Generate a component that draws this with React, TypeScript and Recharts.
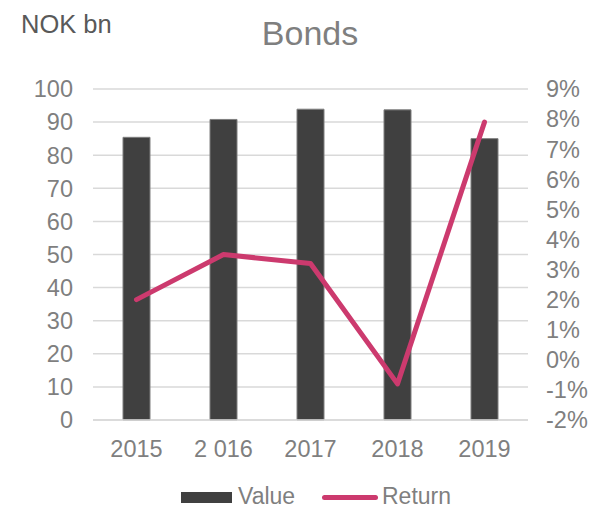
import { ComposedChart, Bar, Line, XAxis, YAxis, CartesianGrid } from 'recharts';

const years = ['2015', '2 016', '2017', '2018', '2019'];
const values = [85.4, 90.8, 93.9, 93.7, 85.0];
const returns = [2.0, 3.5, 3.2, -0.8, 7.9];
const leftTicks = [0, 10, 20, 30, 40, 50, 60, 70, 80, 90, 100];
const rightTicks = [-2, -1, 0, 1, 2, 3, 4, 5, 6, 7, 8, 9];

const data = years.map((year, i) => ({ year, value: values[i], ret: returns[i] }));

const FONT = '"Liberation Sans", Arial, sans-serif';
const TICK = { fill: '#7f7f7f', fontSize: 23.5, fontFamily: FONT };
const BAR_COLOR = '#404040';
const LINE_COLOR = '#cc3a6e';

export default function App() {
  return (
    <div style={{ position: 'relative', width: 593, height: 511, background: '#fff', fontFamily: FONT }}>
      <style>{'body{margin:0}'}</style>
      <div style={{ position: 'absolute', left: 21, top: 10, fontSize: 25.5, color: '#595959', lineHeight: 'normal' }}>NOK bn</div>
      <div style={{ position: 'absolute', left: 0, width: 620, top: 14, textAlign: 'center', fontSize: 34, color: '#7f7f7f', lineHeight: 'normal' }}>
        Bonds
      </div>
      <ComposedChart width={593} height={511} data={data} margin={{ top: 89, right: 0, bottom: 50, left: 0 }}>
        <CartesianGrid yAxisId="left" vertical={false} stroke="#d9d9d9" strokeWidth={1.5} />
        <XAxis
          dataKey="year"
          height={41}
          tick={TICK}
          tickLine={false}
          axisLine={{ stroke: '#d9d9d9', strokeWidth: 1.5 }}
          tickSize={0}
          tickMargin={20}
          interval={0}
        />
        <YAxis
          yAxisId="left"
          orientation="left"
          width={93}
          domain={[0, 100]}
          ticks={leftTicks}
          tick={TICK}
          tickLine={false}
          axisLine={false}
          tickSize={0}
          tickMargin={20}
          interval={0}
        />
        <YAxis
          yAxisId="right"
          orientation="right"
          width={65}
          domain={[-2, 9]}
          ticks={rightTicks}
          tick={TICK}
          tickFormatter={(v: number) => `${v}%`}
          tickLine={false}
          axisLine={false}
          tickSize={0}
          tickMargin={18}
          interval={0}
        />
        <Bar yAxisId="left" dataKey="value" barSize={27} fill={BAR_COLOR} stroke="#7f7f7f" strokeWidth={1} isAnimationActive={false} />
        <Line
          yAxisId="right"
          dataKey="ret"
          stroke={LINE_COLOR}
          strokeWidth={5}
          strokeLinecap="round"
          strokeLinejoin="round"
          dot={false}
          activeDot={false}
          type="linear"
          isAnimationActive={false}
        />
      </ComposedChart>
      {/* legend */}
      <div style={{ position: 'absolute', left: 181, top: 492, width: 51, height: 11, background: BAR_COLOR }} />
      <div style={{ position: 'absolute', left: 238, top: 483, fontSize: 23, lineHeight: '27px', color: '#7f7f7f' }}>Value</div>
      <div style={{ position: 'absolute', left: 322, top: 495, width: 56, height: 5, borderRadius: 3, background: LINE_COLOR }} />
      <div style={{ position: 'absolute', left: 382, top: 483, fontSize: 23, lineHeight: '27px', color: '#7f7f7f' }}>Return</div>
    </div>
  );
}
